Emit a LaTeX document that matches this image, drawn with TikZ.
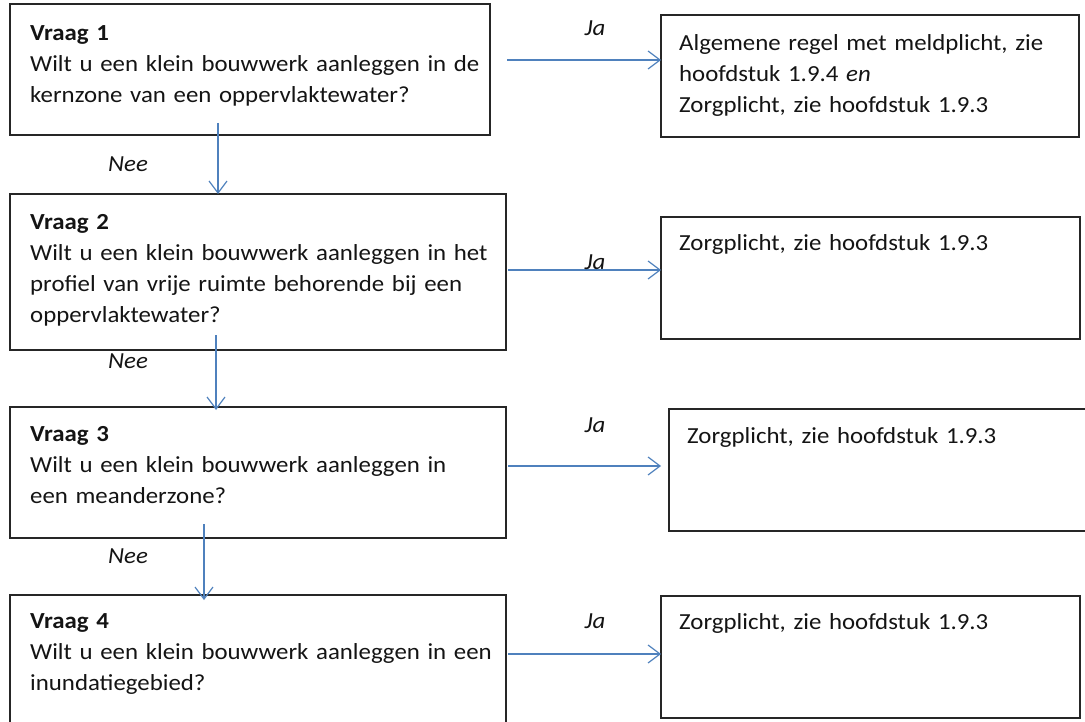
\documentclass[tikz,border=0pt]{standalone}
\usepackage{fontspec}
\setmainfont{Carlito}[FakeStretch=1.08]
\usetikzlibrary{arrows.meta}
\definecolor{pijlblauw}{RGB}{79,129,189}
\definecolor{tekstgrijs}{RGB}{20,20,20}

\begin{document}
\begin{tikzpicture}[x=1pt, y=-1pt,
	vak/.style={draw=black!85, line width=1.3pt, inner sep=0pt, outer sep=0pt, anchor=north west},
	tekst/.style={anchor=base west, inner sep=0pt, text width=470pt, align=left, text=tekstgrijs, font=\fontsize{23}{31}\selectfont},
	keuze/.style={anchor=base, inner sep=0pt, text=tekstgrijs, font=\fontsize{23}{31}\selectfont\itshape},
	pijl/.style={draw=pijlblauw, line width=1.2pt, -{Straight Barb[length=12pt,width=18pt]}}]

	\useasboundingbox (0,0) rectangle (1085,722);
	\clip (0,0) rectangle (1085,722);

	% vragen
	\node[vak, minimum width=480pt, minimum height=131pt] (q1) at (10,4) {};
	\node[vak, minimum width=496pt, minimum height=156pt] (q2) at (10,194) {};
	\node[vak, minimum width=496pt, minimum height=131pt] (q3) at (10,407) {};
	\node[vak, minimum width=496pt, minimum height=135pt] (q4) at (10,595) {};

	% antwoorden
	\node[vak, minimum width=418pt, minimum height=122pt] (a1) at (661,15) {};
	\node[vak, minimum width=419pt, minimum height=122pt] (a2) at (661,217) {};
	\node[vak, minimum width=426pt, minimum height=122pt] (a3) at (669,409) {};
	\node[vak, minimum width=419pt, minimum height=122pt] (a4) at (661,596) {};

	% teksten
	\node[tekst] (q1t) at ([xshift=20pt,yshift=-37pt]q1.north west) {\textbf{Vraag 1}\\Wilt u een klein bouwwerk aanleggen in de\\kernzone van een oppervlaktewater?};
	\node[tekst] (q2t) at ([xshift=20pt,yshift=-36pt]q2.north west) {\textbf{Vraag 2}\\Wilt u een klein bouwwerk aanleggen in het\\profiel van vrije ruimte behorende bij een\\oppervlaktewater?};
	\node[tekst] (q3t) at ([xshift=20pt,yshift=-34pt]q3.north west) {\textbf{Vraag 3}\\Wilt u een klein bouwwerk aanleggen in\\een meanderzone?};
	\node[tekst] (q4t) at ([xshift=20pt,yshift=-33pt]q4.north west) {\textbf{Vraag 4}\\Wilt u een klein bouwwerk aanleggen in een\\inundatiegebied?};
	\node[tekst] (a1t) at ([xshift=18pt,yshift=-36pt]a1.north west) {Algemene regel met meldplicht, zie\\hoofdstuk 1.9.4 \textit{en}\\Zorgplicht, zie hoofdstuk 1.9.3};
	\node[tekst] (a2t) at ([xshift=18pt,yshift=-34pt]a2.north west) {Zorgplicht, zie hoofdstuk 1.9.3};
	\node[tekst] (a3t) at ([xshift=18pt,yshift=-34pt]a3.north west) {Zorgplicht, zie hoofdstuk 1.9.3};
	\node[tekst] (a4t) at ([xshift=18pt,yshift=-33pt]a4.north west) {Zorgplicht, zie hoofdstuk 1.9.3};

	% ja-pijlen
	\draw[pijl] ([xshift=17pt,yshift=9.5pt]q1.east) coordinate (j1) -- (j1 -| a1.west);
	\draw[pijl] ([xshift=2pt,yshift=2pt]q2.east) coordinate (j2) -- (j2 -| a2.west);
	\draw[pijl, shorten >=8pt] ([xshift=2pt,yshift=6.5pt]q3.east) coordinate (j3) -- (j3 -| a3.west);
	\draw[pijl] ([xshift=2pt,yshift=8.5pt]q4.east) coordinate (j4) -- (j4 -| a4.west);

	% nee-pijlen
	\draw[pijl] ([xshift=-32pt,yshift=12pt]q1.south) coordinate (n1) -- (n1 |- q2.north);
	\draw[pijl, shorten >=-3pt] ([xshift=-42pt,yshift=15pt]q2.south) coordinate (n2) -- (n2 |- q3.north);
	\draw[pijl, shorten >=-5pt] ([xshift=-54pt,yshift=14pt]q3.south) coordinate (n3) -- (n3 |- q4.north);

	% labels
	\node[keuze] (ja1) at (595,36) {Ja};
	\node[keuze] (ja2) at (595,270) {Ja};
	\node[keuze] (ja3) at (595,432) {Ja};
	\node[keuze] (ja4) at (595,628) {Ja};
	\node[keuze] (nee1) at (128,172) {Nee};
	\node[keuze] (nee2) at (128,368) {Nee};
	\node[keuze] (nee3) at (128,563) {Nee};

\end{tikzpicture}
\end{document}
